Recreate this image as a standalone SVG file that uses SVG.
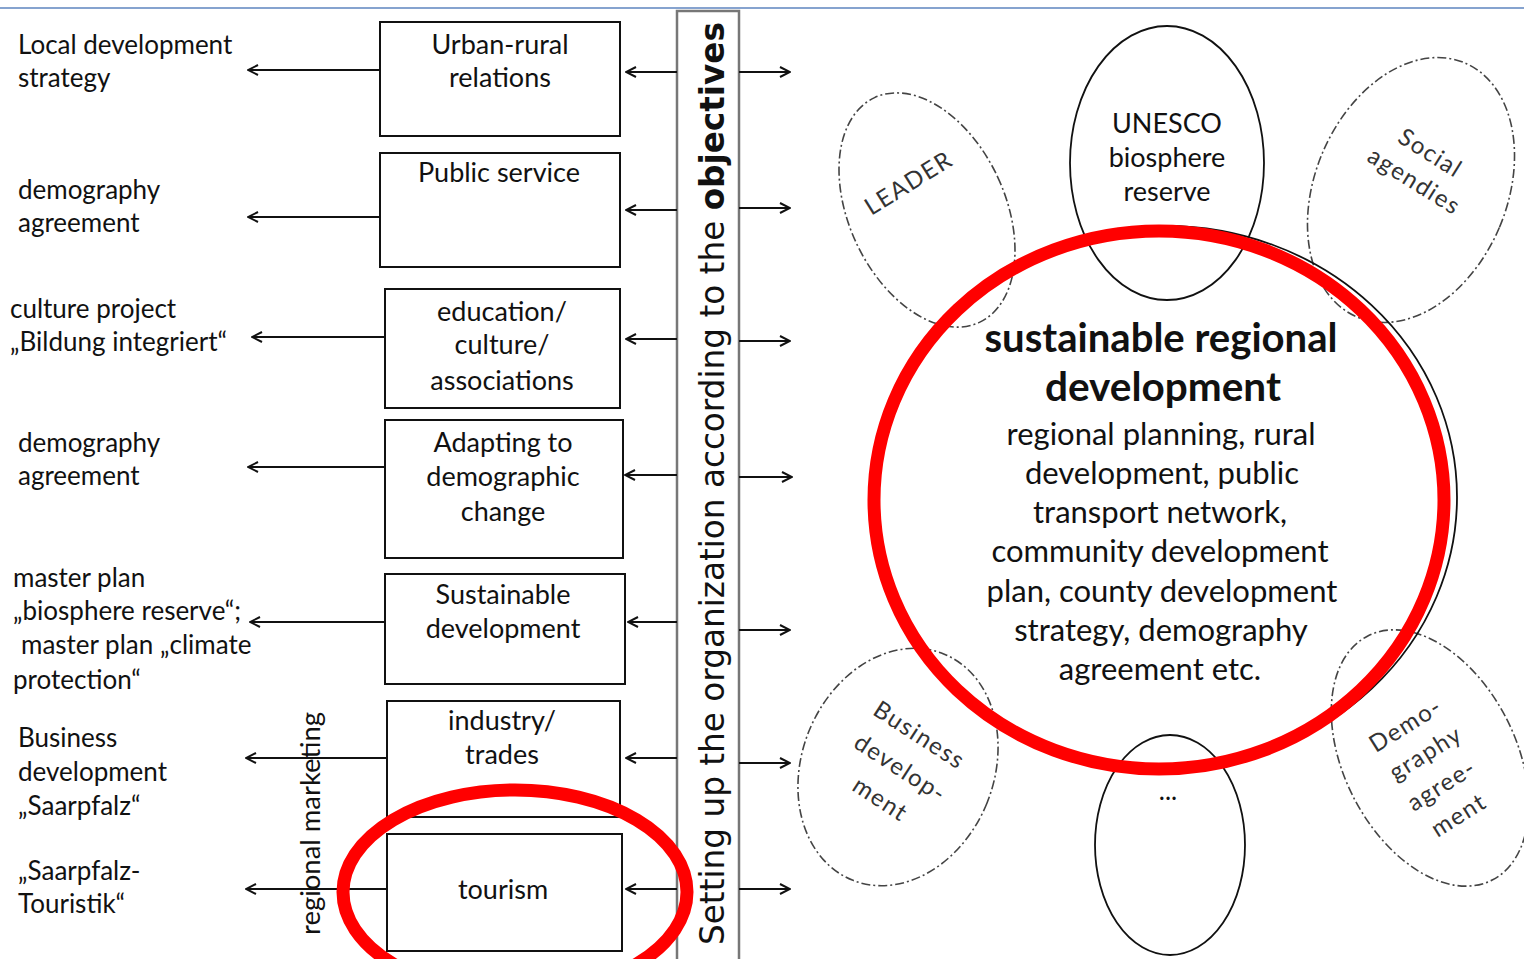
<svg xmlns="http://www.w3.org/2000/svg" width="1524" height="959" viewBox="0 0 1524 959">
<style>
.t{font-family:Lato,"Liberation Sans",sans-serif;font-size:26px;fill:#111}
.b{font-size:27px}
.c{text-anchor:middle}
.box{fill:#fff;stroke:#111;stroke-width:2}
.ln{stroke:#111;stroke-width:2;fill:none}
.dash{fill:none;stroke:#444;stroke-width:1.6;stroke-dasharray:9 3 2 3}
.sol{fill:none;stroke:#111;stroke-width:1.8}
.red{fill:none;stroke:#ff0000;stroke-width:13}
.et{font-family:Lato,"Liberation Sans",sans-serif;font-size:24px;fill:#333;letter-spacing:1.5px;text-anchor:middle}
.mid{font-family:Lato,"Liberation Sans",sans-serif;font-size:31px;fill:#111;text-anchor:middle}
.bold{font-weight:bold;font-size:40px}
</style>
<defs>
<marker id="ah" viewBox="0 0 12 12" refX="11" refY="6" markerWidth="12" markerHeight="12" markerUnits="userSpaceOnUse" orient="auto-start-reverse">
<path d="M1,1 L11,6 L1,11" fill="none" stroke="#111" stroke-width="2"/>
</marker>
</defs>
<rect width="1524" height="959" fill="#fff"/>
<line x1="0" y1="8" x2="1524" y2="8" stroke="#86a3cf" stroke-width="2"/>

<g id="bar">
<rect x="677" y="11" width="62" height="960" fill="#fff" stroke="#777" stroke-width="2.5"/>
<text transform="translate(724,945) rotate(-90)" font-family="'DejaVu Sans','Liberation Sans',sans-serif" font-size="33" fill="#111" textLength="923" lengthAdjust="spacingAndGlyphs">Setting up the organization according to the <tspan font-weight="bold">objectives</tspan></text>
</g>

<g id="regional-marketing">
<text class="t" transform="translate(320,935) rotate(-90)" font-size="23" textLength="223" lengthAdjust="spacingAndGlyphs">regional marketing</text>
</g>

<g id="connectors">
<path class="ln" d="M248,70 H380" marker-start="url(#ah)"/>
<path class="ln" d="M248,217 H380" marker-start="url(#ah)"/>
<path class="ln" d="M252,337 H385" marker-start="url(#ah)"/>
<path class="ln" d="M248,467 H385" marker-start="url(#ah)"/>
<path class="ln" d="M250,622 H385" marker-start="url(#ah)"/>
<path class="ln" d="M246,758 H387" marker-start="url(#ah)"/>
<path class="ln" d="M246,889 H387" marker-start="url(#ah)"/>

<path class="ln" d="M626,72 H677" marker-start="url(#ah)"/>
<path class="ln" d="M626,210 H677" marker-start="url(#ah)"/>
<path class="ln" d="M626,339 H677" marker-start="url(#ah)"/>
<path class="ln" d="M625,475 H677" marker-start="url(#ah)"/>
<path class="ln" d="M628,622 H677" marker-start="url(#ah)"/>
<path class="ln" d="M626,758 H677" marker-start="url(#ah)"/>
<path class="ln" d="M626,889 H677" marker-start="url(#ah)"/>

<path class="ln" d="M739,72 H790" marker-end="url(#ah)"/>
<path class="ln" d="M739,208 H790" marker-end="url(#ah)"/>
<path class="ln" d="M739,341 H790" marker-end="url(#ah)"/>
<path class="ln" d="M739,477 H792" marker-end="url(#ah)"/>
<path class="ln" d="M739,630 H790" marker-end="url(#ah)"/>
<path class="ln" d="M739,763 H790" marker-end="url(#ah)"/>
<path class="ln" d="M739,889 H790" marker-end="url(#ah)"/>
</g>

<g id="left-labels">
<text class="t" x="18" y="54">Local development</text>
<text class="t" x="18" y="87">strategy</text>
<text class="t" x="18" y="199">demography</text>
<text class="t" x="18" y="232">agreement</text>
<text class="t" x="10" y="318">culture project</text>
<text class="t" x="10" y="351">„Bildung integriert“</text>
<text class="t" x="18" y="452">demography</text>
<text class="t" x="18" y="485">agreement</text>
<text class="t" x="13" y="587">master plan</text>
<text class="t" x="13" y="620">„biosphere reserve“;</text>
<text class="t" x="21" y="654">master plan „climate</text>
<text class="t" x="13" y="689">protection“</text>
<text class="t" x="18" y="747">Business</text>
<text class="t" x="18" y="781">development</text>
<text class="t" x="18" y="815">„Saarpfalz“</text>
<text class="t" x="18" y="880">„Saarpfalz-</text>
<text class="t" x="18" y="913">Touristik“</text>
</g>

<g id="box-urban-rural">
<rect class="box" x="380" y="22" width="240" height="114"/>
<text class="t b c" x="500" y="54">Urban-rural</text>
<text class="t b c" x="500" y="87">relations</text>
</g>
<g id="box-public-service">
<rect class="box" x="380" y="153" width="240" height="114"/>
<text class="t b c" x="499" y="182">Public service</text>
</g>
<g id="box-education">
<rect class="box" x="385" y="289" width="235" height="119"/>
<text class="t b c" x="502" y="321">education/</text>
<text class="t b c" x="502" y="354">culture/</text>
<text class="t b c" x="502" y="390">associations</text>
</g>
<g id="box-adapting">
<rect class="box" x="385" y="420" width="238" height="138"/>
<text class="t b c" x="503" y="452">Adapting to</text>
<text class="t b c" x="503" y="486">demographic</text>
<text class="t b c" x="503" y="521">change</text>
</g>
<g id="box-sustainable">
<rect class="box" x="385" y="574" width="240" height="110"/>
<text class="t b c" x="503" y="604">Sustainable</text>
<text class="t b c" x="503" y="638">development</text>
</g>
<g id="box-industry">
<rect class="box" x="387" y="701" width="233" height="116"/>
<text class="t b c" x="502" y="730">industry/</text>
<text class="t b c" x="502" y="764">trades</text>
</g>
<g id="box-tourism">
<rect class="box" x="387" y="834" width="235" height="117"/>
<text class="t b c" x="503" y="899">tourism</text>
</g>

<g id="ellipse-leader">
<ellipse class="dash" cx="927" cy="210" rx="78" ry="124" transform="rotate(-25 927 210)"/>
<text class="et" transform="translate(913,190) rotate(-32)">LEADER</text>
</g>
<g id="ellipse-unesco">
<ellipse class="sol" cx="1167" cy="163" rx="97" ry="137"/>
<text class="t b c" x="1167" y="133">UNESCO</text>
<text class="t b c" x="1167" y="167">biosphere</text>
<text class="t b c" x="1167" y="201">reserve</text>
</g>
<g id="ellipse-social">
<ellipse class="dash" cx="1411" cy="190" rx="96" ry="138" transform="rotate(23 1411 190)"/>
<text class="et" transform="translate(1426,160) rotate(32)">Social</text>
<text class="et" transform="translate(1410,188) rotate(32)">agendies</text>
</g>
<g id="ellipse-business">
<ellipse class="dash" cx="898" cy="767" rx="96" ry="122" transform="rotate(22 898 767)"/>
<text class="et" transform="translate(915,742) rotate(33)">Business</text>
<text class="et" transform="translate(896,775) rotate(33)">develop-</text>
<text class="et" transform="translate(876,806) rotate(33)">ment</text>
</g>
<g id="ellipse-dots">
<ellipse class="sol" cx="1170" cy="845" rx="75" ry="110"/>
<text class="t c" x="1168" y="800" font-size="16">...</text>
</g>
<g id="ellipse-demography">
<ellipse class="dash" cx="1430" cy="758" rx="86" ry="137" transform="rotate(-27 1430 758)"/>
<text class="et" transform="translate(1410,732) rotate(-32)">Demo-</text>
<text class="et" transform="translate(1430,760) rotate(-32)">graphy</text>
<text class="et" transform="translate(1446,792) rotate(-32)">agree-</text>
<text class="et" transform="translate(1463,822) rotate(-32)">ment</text>
</g>

<g id="center">
<ellipse class="sol" cx="1166" cy="497" rx="291" ry="271"/>
<text class="mid bold" x="1161" y="352" textLength="353" lengthAdjust="spacingAndGlyphs">sustainable regional</text>
<text class="mid bold" x="1163" y="401" textLength="236" lengthAdjust="spacingAndGlyphs">development</text>
<text class="mid" x="1161" y="445">regional planning, rural</text>
<text class="mid" x="1162" y="484">development, public</text>
<text class="mid" x="1160" y="523">transport network,</text>
<text class="mid" x="1160" y="562">community development</text>
<text class="mid" x="1162" y="602">plan, county development</text>
<text class="mid" x="1161" y="641">strategy, demography</text>
<text class="mid" x="1160" y="680">agreement etc.</text>
</g>

<g id="highlights">
<ellipse class="red" cx="1159" cy="500" rx="285" ry="269"/>
<ellipse class="red" cx="515" cy="892" rx="172" ry="102" stroke-width="12"/>
</g>
</svg>
